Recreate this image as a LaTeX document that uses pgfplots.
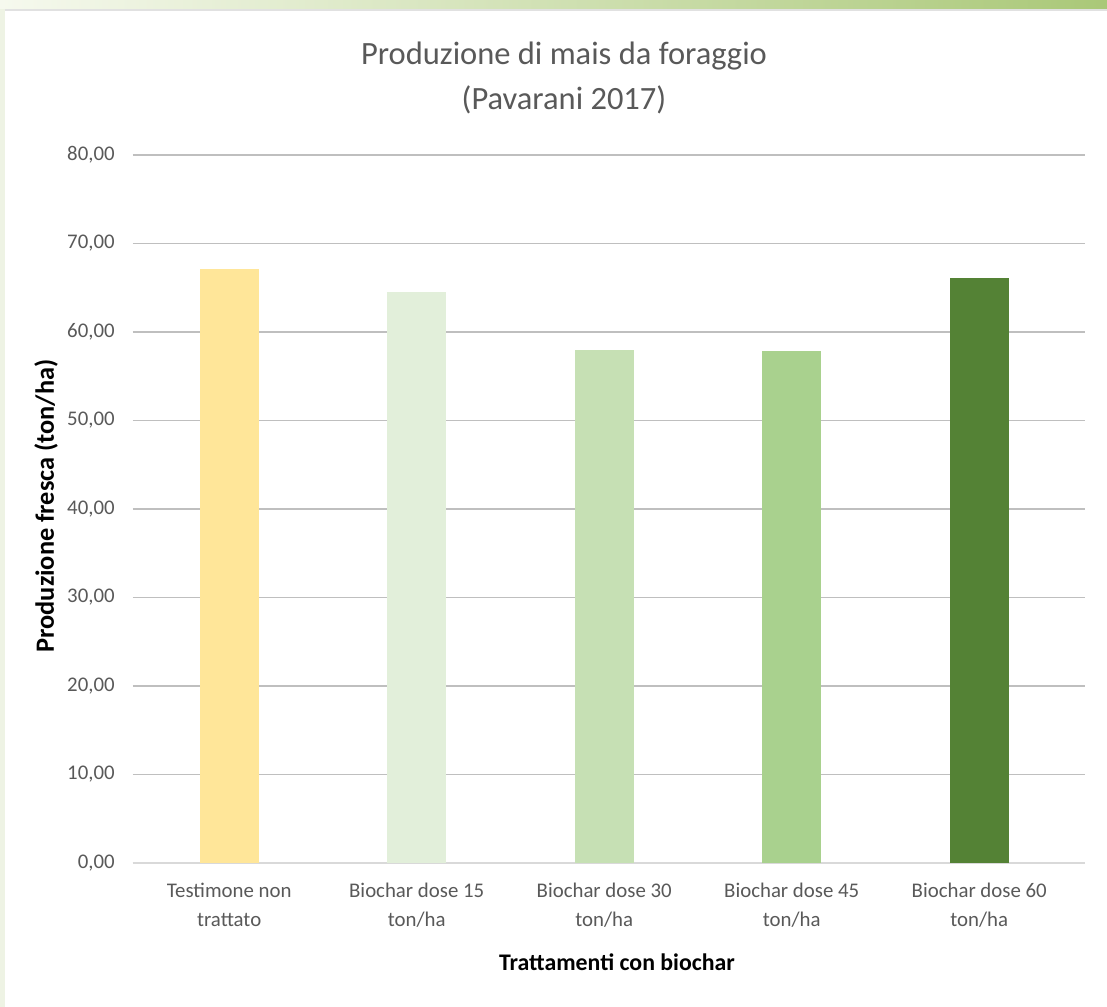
\documentclass[border=0pt]{standalone}
\usepackage{pgfplots}
\pgfplotsset{compat=1.18}
\usepackage{fontspec}
\setmainfont{Carlito}
\definecolor{c1}{HTML}{FFE699}
\definecolor{c2}{HTML}{E2EFDA}
\definecolor{c3}{HTML}{C6E0B4}
\definecolor{c4}{HTML}{A9D18E}
\definecolor{c5}{HTML}{548235}
\definecolor{tick}{HTML}{595959}
\definecolor{grid}{HTML}{D9D9D9}
\definecolor{fl}{RGB}{246,249,238}
\definecolor{fr}{RGB}{170,200,120}
\definecolor{fs}{RGB}{238,243,228}
\definecolor{fg}{RGB}{225,225,225}
\begin{document}
\begin{tikzpicture}[x=0.6pt,y=0.6pt]
% frame / background (pixel coords, y measured upward: 1007 - y_px)
\fill[white] (0,0) rectangle (1107,1007);
\shade[left color=fl, right color=fr] (0,998) rectangle (1107,1007);
\fill[fs] (0,0) rectangle (5,998);
\fill[fg] (5,996) rectangle (1107,998);
\begin{axis}[
  at={(79.8pt,86.4pt)}, anchor=south west,
  scale only axis,
  width=571.2pt, height=424.8pt,
  xmin=-0.513, xmax=4.564,
  ymin=0, ymax=80,
  ytick={0,10,...,80},
  xtick={0,1,2,3,4},
  xticklabels={{Testimone non\\trattato},{Biochar dose 15\\ton/ha},{Biochar dose 30\\ton/ha},{Biochar dose 45\\ton/ha},{Biochar dose 60\\ton/ha}},
  xticklabel style={align=center, font=\fontsize{12.5}{17.4}\selectfont, text=tick, anchor=north, inner sep=0pt, yshift=-12pt},
  yticklabel style={font=\fontsize{12.5}{14}\selectfont, text=tick, anchor=east, inner sep=0pt, xshift=-10.8pt},
  /pgf/number format/.cd, fixed, fixed zerofill, precision=2, use comma, assume math mode=true,
  /pgfplots/.cd,
  xmajorgrids=false, ymajorgrids=true, grid style={grid, line width=0.7pt},
  axis x line*=bottom, axis y line*=left,
  x axis line style={grid, line width=0.7pt},
  y axis line style={draw=none},
  xtick style={draw=none}, ytick style={draw=none},
  major tick length=0pt,
  ybar, bar width=35.4pt, bar shift=0pt,
  clip=false,
]
\addplot[fill=c1, draw=none] coordinates {(0,67.1)};
\addplot[fill=c2, draw=none] coordinates {(1,64.5)};
\addplot[fill=c3, draw=none] coordinates {(2,58.0)};
\addplot[fill=c4, draw=none] coordinates {(3,57.85)};
\addplot[fill=c5, draw=none] coordinates {(4,66.1)};
\end{axis}
\node[align=center, font=\fontsize{19.5}{27}\selectfont, text=tick] at (564,929.5) {Produzione di mais da foraggio\\(Pavarani 2017)};
\node[font=\fontsize{14.3}{16}\selectfont\bfseries] at (617,45) {Trattamenti con biochar};
\node[rotate=90, font=\fontsize{15.8}{18}\selectfont\bfseries] at (46,501) {Produzione fresca (ton/ha)};
\end{tikzpicture}
\end{document}
